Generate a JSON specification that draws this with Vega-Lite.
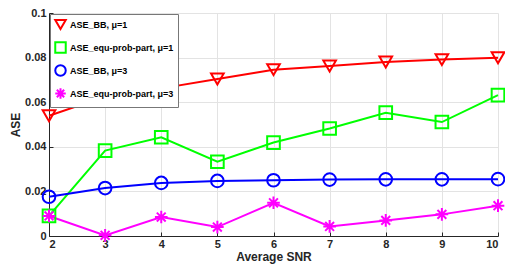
{
  "$schema": "https://vega.github.io/schema/vega-lite/v6.json",
  "width": 449,
  "height": 223,
  "autosize": {"type": "none"},
  "padding": {"left": 49, "top": 13, "right": 7, "bottom": 33},
  "background": "white",
  "config": {
    "font": "Liberation Sans",
    "view": {"stroke": null},
    "axis": {
      "labelFont": "Liberation Sans",
      "labelFontWeight": "bold",
      "labelFontSize": 11,
      "labelColor": "#262626",
      "titleFont": "Liberation Sans",
      "titleFontWeight": "bold",
      "titleFontSize": 12,
      "titleColor": "#262626",
      "domainColor": "#262626",
      "tickColor": "#262626",
      "gridColor": "#e3e3e3",
      "gridWidth": 1
    }
  },
  "data": {
    "values": [
      {"snr": 2, "ase": 0.0539, "series": "ASE_BB, μ=1"},
      {"snr": 3, "ase": 0.0625, "series": "ASE_BB, μ=1"},
      {"snr": 4, "ase": 0.0662, "series": "ASE_BB, μ=1"},
      {"snr": 5, "ase": 0.0704, "series": "ASE_BB, μ=1"},
      {"snr": 6, "ase": 0.0746, "series": "ASE_BB, μ=1"},
      {"snr": 7, "ase": 0.0762, "series": "ASE_BB, μ=1"},
      {"snr": 8, "ase": 0.078, "series": "ASE_BB, μ=1"},
      {"snr": 9, "ase": 0.0791, "series": "ASE_BB, μ=1"},
      {"snr": 10, "ase": 0.0799, "series": "ASE_BB, μ=1"},
      {"snr": 2, "ase": 0.009, "series": "ASE_equ-prob-part, μ=1"},
      {"snr": 3, "ase": 0.0383, "series": "ASE_equ-prob-part, μ=1"},
      {"snr": 4, "ase": 0.0443, "series": "ASE_equ-prob-part, μ=1"},
      {"snr": 5, "ase": 0.0333, "series": "ASE_equ-prob-part, μ=1"},
      {"snr": 6, "ase": 0.0419, "series": "ASE_equ-prob-part, μ=1"},
      {"snr": 7, "ase": 0.0482, "series": "ASE_equ-prob-part, μ=1"},
      {"snr": 8, "ase": 0.0553, "series": "ASE_equ-prob-part, μ=1"},
      {"snr": 9, "ase": 0.0511, "series": "ASE_equ-prob-part, μ=1"},
      {"snr": 10, "ase": 0.0632, "series": "ASE_equ-prob-part, μ=1"},
      {"snr": 2, "ase": 0.0176, "series": "ASE_BB, μ=3"},
      {"snr": 3, "ase": 0.0215, "series": "ASE_BB, μ=3"},
      {"snr": 4, "ase": 0.0238, "series": "ASE_BB, μ=3"},
      {"snr": 5, "ase": 0.0247, "series": "ASE_BB, μ=3"},
      {"snr": 6, "ase": 0.025, "series": "ASE_BB, μ=3"},
      {"snr": 7, "ase": 0.0253, "series": "ASE_BB, μ=3"},
      {"snr": 8, "ase": 0.0254, "series": "ASE_BB, μ=3"},
      {"snr": 9, "ase": 0.0254, "series": "ASE_BB, μ=3"},
      {"snr": 10, "ase": 0.0255, "series": "ASE_BB, μ=3"},
      {"snr": 2, "ase": 0.009, "series": "ASE_equ-prob-part, μ=3"},
      {"snr": 3, "ase": 0.0003, "series": "ASE_equ-prob-part, μ=3"},
      {"snr": 4, "ase": 0.0085, "series": "ASE_equ-prob-part, μ=3"},
      {"snr": 5, "ase": 0.004, "series": "ASE_equ-prob-part, μ=3"},
      {"snr": 6, "ase": 0.0149, "series": "ASE_equ-prob-part, μ=3"},
      {"snr": 7, "ase": 0.0043, "series": "ASE_equ-prob-part, μ=3"},
      {"snr": 8, "ase": 0.007, "series": "ASE_equ-prob-part, μ=3"},
      {"snr": 9, "ase": 0.0097, "series": "ASE_equ-prob-part, μ=3"},
      {"snr": 10, "ase": 0.0136, "series": "ASE_equ-prob-part, μ=3"}
    ]
  },
  "encoding": {
    "x": {
      "field": "snr", "type": "quantitative",
      "scale": {"domain": [2, 10], "nice": false},
      "axis": {"title": "Average SNR", "values": [2,3,4,5,6,7,8,9,10], "tickSize": -4, "labelPadding": 6, "titlePadding": 2, "grid": true}
    },
    "y": {
      "field": "ase", "type": "quantitative",
      "scale": {"domain": [0, 0.1], "nice": false},
      "axis": {"title": "ASE", "values": [0, 0.02, 0.04, 0.06, 0.08, 0.1], "tickSize": -4, "labelPadding": 7, "titlePadding": 2, "grid": true,
        "labelExpr": "datum.value == 0 ? '0' : format(datum.value, '.2~f')"}
    },
    "color": {
      "field": "series", "type": "nominal",
      "scale": {
        "domain": ["ASE_BB, μ=1", "ASE_equ-prob-part, μ=1", "ASE_BB, μ=3", "ASE_equ-prob-part, μ=3"],
        "range": ["#ff0000", "#00ff00", "#0000ff", "#ff00ff"]
      },
      "legend": {
        "title": null,
        "orient": "top-left",
        "offset": 1,
        "fillColor": "white",
        "strokeColor": "#777777",
        "padding": 4,
        "labelFont": "Liberation Sans",
        "labelFontWeight": "bold",
        "labelFontSize": 9,
        "labelColor": "#000000",
        "labelOffset": 3,
        "symbolStrokeWidth": 2,
        "symbolSize": 110,
        "rowPadding": 4
      }
    }
  },
  "layer": [
    {
      "mark": {"type": "line", "strokeWidth": 2},
      "encoding": {}
    },
    {
      "mark": {"type": "point", "filled": false, "strokeWidth": 2, "opacity": 1},
      "encoding": {
        "shape": {
          "field": "series", "type": "nominal",
          "scale": {
            "domain": ["ASE_BB, μ=1", "ASE_equ-prob-part, μ=1", "ASE_BB, μ=3", "ASE_equ-prob-part, μ=3"],
            "range": ["triangle-down", "square", "circle", "M0,-1L0,1M-1,0L1,0M-0.7,-0.7L0.7,0.7M-0.7,0.7L0.7,-0.7"]
          }
        },
        "size": {"value": 160}
      }
    }
  ]
}
